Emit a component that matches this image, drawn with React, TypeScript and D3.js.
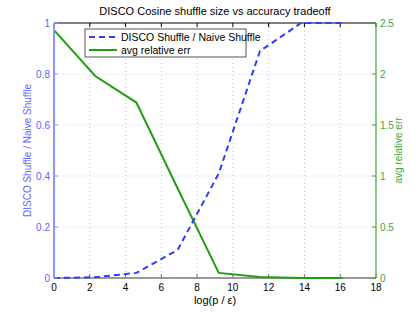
import React from 'react'
import * as d3 from 'd3'

// x positions are multiples of ln(10)
const xs = [0, 2.303, 4.605, 6.908, 9.21, 11.513, 13.816, 16.118]
const shuffleRatio = [0, 0.003, 0.02, 0.11, 0.41, 0.89, 1, 1]
const relErr = [2.43, 1.98, 1.72, 0.88, 0.05, 0.01, 0, 0]

const xTicks = [0, 2, 4, 6, 8, 10, 12, 14, 16, 18]
const leftTicks = [0, 0.2, 0.4, 0.6, 0.8, 1]
const rightTicks = [0, 0.5, 1, 1.5, 2, 2.5]

const W = 415, H = 313
const margin = { top: 23, right: 39, bottom: 35, left: 54 }
const font = '"Liberation Sans", Arial, sans-serif'
const blue = '#2f3dff'
const blueAxis = '#8c96ff'
const blueText = '#5a66ff'
const green = '#1fa010'
const greenAxis = '#3aa83a'

const App = () => {
    const iw = W - margin.left - margin.right
    const ih = H - margin.top - margin.bottom

    const x = d3.scaleLinear().domain([0, 18]).range([margin.left, margin.left + iw])
    const yL = d3.scaleLinear().domain([0, 1]).range([margin.top + ih, margin.top])
    const yR = d3.scaleLinear().domain([0, 2.5]).range([margin.top + ih, margin.top])

    const blueLine = d3.line<number>().x((d, i) => x(xs[i])).y(d => yL(d))(shuffleRatio) || ''
    const greenLine = d3.line<number>().x((d, i) => x(xs[i])).y(d => yR(d))(relErr) || ''

    const x0 = margin.left, x1 = margin.left + iw
    const y0 = margin.top + ih, y1 = margin.top
    const tl = 4

    return (
        <svg width={W} height={H} style={{ position: 'absolute', left: 0, top: 0, background: '#fff' }}
            fontFamily={font}>
            {/* grid */}
            {xTicks.slice(1, -1).map(t => (
                <line key={'gx' + t} x1={x(t)} x2={x(t)} y1={y1} y2={y0}
                    stroke="#c4c4c4" strokeWidth={1} strokeDasharray="1,3" />
            ))}
            {leftTicks.slice(1, -1).map(t => (
                <line key={'gy' + t} x1={x0} x2={x1} y1={yL(t)} y2={yL(t)}
                    stroke="#c8ccff" strokeWidth={1} strokeDasharray="1,3" />
            ))}

            {/* top / bottom axes */}
            <line x1={x0} x2={x1} y1={y1} y2={y1} stroke="#000" />
            <line x1={x0} x2={x1} y1={y0} y2={y0} stroke="#777" strokeWidth={1.5} />
            {xTicks.map(t => (
                <g key={'xt' + t}>
                    <line x1={x(t)} x2={x(t)} y1={y1} y2={y1 + tl} stroke="#000" />
                    <line x1={x(t)} x2={x(t)} y1={y0} y2={y0 - tl} stroke="#777" />
                    <text x={x(t)} y={y0 + 13} fontSize={10} textAnchor="middle" fill="#000">{t}</text>
                </g>
            ))}
            <text x={x(9)} y={y0 + 26} fontSize={11} textAnchor="middle" fill="#000">log(p / ε)</text>

            {/* lines */}
            <path d={greenLine} fill="none" stroke={green} strokeWidth={2} />
            <path d={blueLine} fill="none" stroke={blue} strokeWidth={2} strokeDasharray="6,4" />

            {/* left axis */}
            <line x1={x0} x2={x0} y1={y1} y2={y0} stroke={blueAxis} strokeWidth={2} />
            {leftTicks.map(t => (
                <g key={'yl' + t}>
                    <line x1={x0} x2={x0 + tl} y1={yL(t)} y2={yL(t)} stroke={blueAxis} />
                    <text x={x0 - 4} y={yL(t) + 3.5} fontSize={10} textAnchor="end" fill={blueText}>{t}</text>
                </g>
            ))}
            <text transform={`translate(28,${(y0 + y1) / 2}) rotate(-90)`} fontSize={10}
                textAnchor="middle" dominantBaseline="middle" fill={blueText}>DISCO Shuffle / Naive Shuffle</text>

            {/* right axis */}
            <line x1={x1} x2={x1} y1={y1} y2={y0} stroke={greenAxis} strokeWidth={1.2} />
            {rightTicks.map(t => (
                <g key={'yr' + t}>
                    <line x1={x1} x2={x1 - tl} y1={yR(t)} y2={yR(t)} stroke={greenAxis} />
                    <text x={x1 + 4} y={yR(t) + 3.5} fontSize={10} textAnchor="start" fill={greenAxis}>{t}</text>
                </g>
            ))}
            <text transform={`translate(399,${(y0 + y1) / 2}) rotate(-90)`} fontSize={10}
                textAnchor="middle" dominantBaseline="middle" fill={greenAxis}>avg relative err</text>

            {/* title */}
            <text x={x(9)} y={15} fontSize={11} textAnchor="middle" fill="#000">
                DISCO Cosine shuffle size vs accuracy tradeoff
            </text>

            {/* legend */}
            <g>
                <rect x={85} y={29} width={161} height={28} fill="#fff" stroke="#555" strokeWidth={1} />
                <line x1={89} x2={117} y1={37} y2={37} stroke={blue} strokeWidth={2} strokeDasharray="6,4" />
                <text x={121} y={41} fontSize={10.5} fill="#000">DISCO Shuffle / Naive Shuffle</text>
                <line x1={89} x2={117} y1={50} y2={50} stroke={green} strokeWidth={2} />
                <text x={121} y={54} fontSize={10.5} fill="#000">avg relative err</text>
            </g>
        </svg>
    )
}

export default App
